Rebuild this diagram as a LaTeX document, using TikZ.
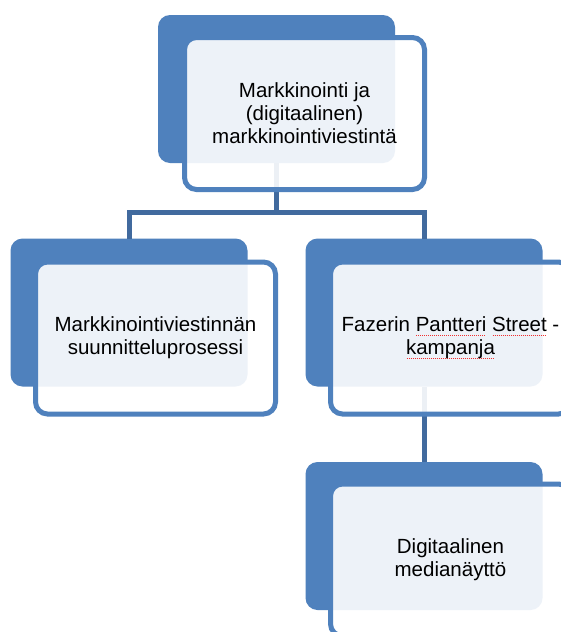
\documentclass[tikz,border=0pt]{standalone}
\usepackage{fontspec}
\setmainfont{Liberation Sans}
\definecolor{blueone}{HTML}{4F81BD}
\definecolor{connc}{HTML}{416A9E}
\definecolor{spellred}{HTML}{F03030}
\newsavebox\spellbox
\newcommand\spellmark[1]{\sbox\spellbox{#1}\rlap{\textcolor{spellred}{\raisebox{-4pt}{\hbox to \wd\spellbox{\leaders\hbox to 2pt{\hss\rule{1pt}{0.7pt}\hss}\hfill}}}}\usebox\spellbox}
\begin{document}
\begin{tikzpicture}[x=1pt,y=-1pt]
\tikzset{
  backbox/.style={fill=blueone, rounded corners=12pt, minimum width=237pt, minimum height=148pt, inner sep=0pt, outer sep=0pt},
  frontbox/.style={draw=blueone, line width=5pt, fill=white, fill opacity=0.9, text opacity=1, rounded corners=12pt, minimum width=240pt, minimum height=152pt, inner sep=0pt, outer sep=0pt, align=center, font=\fontsize{20.5}{23}\selectfont},
  conn/.style={draw=connc, line width=5pt}
}
\useasboundingbox (0,0) rectangle (561,632);
\clip (0,0) rectangle (561,632);
\fill[white] (0,0) rectangle (561,632);
% back boxes
\node[backbox] (b1) at (276.5,89) {};
\node[backbox] (b2) at (129,312.5) {};
\node[backbox] (b3) at (424,312.5) {};
\node[backbox] (b4) at (424,536) {};
% connectors
\coordinate (hub) at (276.5,212);
\draw[conn] (b1.south) -- (hub);
\draw[conn] (b2.north) |- (hub) -| (b3.north);
\draw[conn] (b3.south) -- (b4.north);
% front boxes
\node[frontbox] (f1) at (304.5,113.5) {Markkinointi ja\\(digitaalinen)\\markkinointiviestintä};
\node[frontbox] (f2) at (155.5,338) {Markkinointiviestinnän\\suunnitteluprosessi};
\node[frontbox] (f3) at (450.5,338) {Fazerin \spellmark{Pantteri} \spellmark{Street} -\\\spellmark{kampanja}};
\node[frontbox] (f4) at (450.5,560) {Digitaalinen\\medianäyttö};
\end{tikzpicture}
\end{document}
